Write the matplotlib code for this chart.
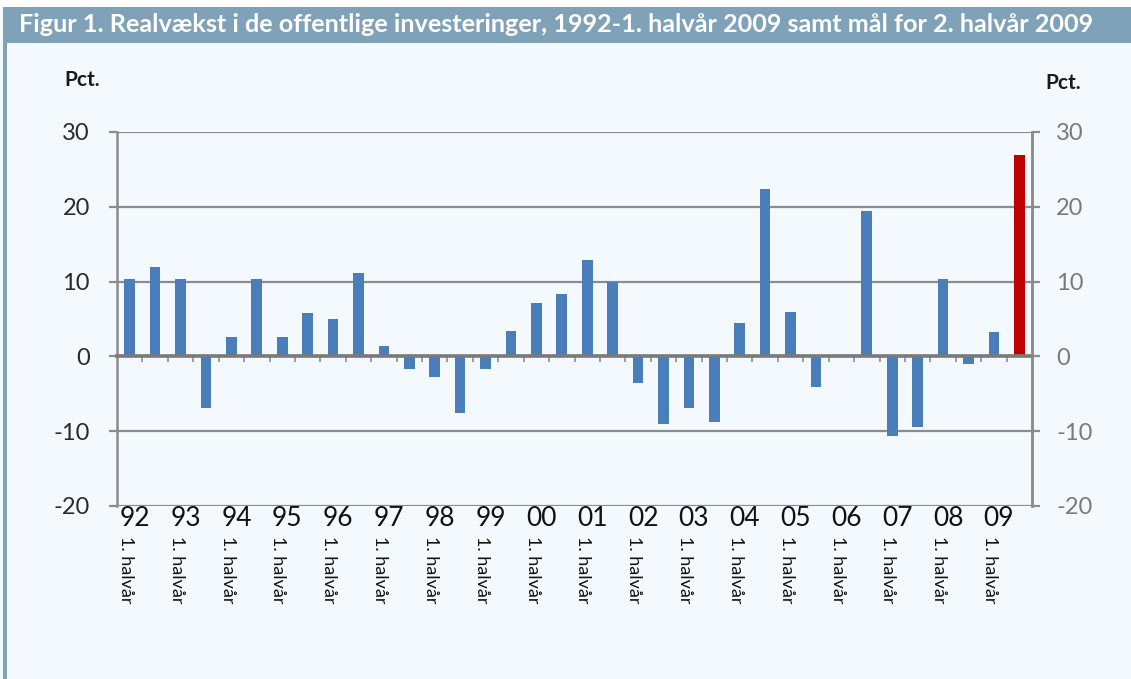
import matplotlib
matplotlib.use("Agg")
import matplotlib.pyplot as plt
import matplotlib.transforms as mtransforms
from matplotlib.patches import Rectangle

# ---- data ----
years = ["92", "93", "94", "95", "96", "97", "98", "99", "00",
         "01", "02", "03", "04", "05", "06", "07", "08", "09"]
half_label = "1. halvår"
values = [10.4, 12.0, 10.4, -6.9, 2.6, 10.4, 2.6, 5.8, 5.0, 11.2,
          1.4, -1.7, -2.7, -7.5, -1.7, 3.4, 7.1, 8.3, 12.9, 10.0,
          -3.6, -9.0, -6.9, -8.8, 4.4, 22.4, 6.0, -4.1, 0.0, 19.4,
          -10.6, -9.4, 10.3, -1.0, 3.2, 26.9]
yticks = [-20, -10, 0, 10, 20, 30]
title = "Figur 1. Realvækst i de offentlige investeringer, 1992-1. halvår 2009 samt mål for 2. halvår 2009"
unit = "Pct."

BG = "#f4f9fd"
BAND = "#7fa2b8"
BLUE = "#4a7ebb"
RED = "#c00000"
GRID = "#8c8c8c"
FONT = ["Lato", "DejaVu Sans"]

plt.rcParams['font.family'] = FONT

fig = plt.figure(figsize=(11.31, 6.79), dpi=100)
fig.patch.set_facecolor(BG)

W, H = 1131, 679
# white strip above header, header band, left border
fig.add_artist(Rectangle((0, 1 - 7 / H), 1, 7 / H, transform=fig.transFigure,
                         facecolor="white", edgecolor="none", zorder=0))
fig.add_artist(Rectangle((3 / W, 1 - 43 / H), 1, 36 / H, transform=fig.transFigure,
                         facecolor=BAND, edgecolor="none", zorder=0))
fig.add_artist(Rectangle((3 / W, 0), 4 / W, 1 - 43 / H, transform=fig.transFigure,
                         facecolor=BAND, edgecolor="none", zorder=0))

t = fig.text(19 / W, 1 - 25 / H, title, color="white", fontsize=19,
             fontweight="bold", va="center", ha="left", family=FONT)
# fit title width to about 1076 px
fig.canvas.draw()
r = fig.canvas.get_renderer()
bb = t.get_window_extent(r)
t.set_fontsize(19 * 1076 / bb.width)

ax = fig.add_axes([117 / W, 1 - 506 / H, (1032 - 117) / W, (506 - 132) / H])
ax.set_facecolor(BG)

n = len(values)
x = list(range(n))
colors = [BLUE] * (n - 1) + [RED]
ax.bar(x, values, width=0.42, color=colors, zorder=3)

ax.set_xlim(-0.5, n - 0.5)
ax.set_ylim(yticks[0], yticks[-1])
ax.set_yticks(yticks)
ax.yaxis.grid(True, color=GRID, linewidth=1.6, zorder=1)
ax.set_axisbelow(True)

ax.spines["top"].set_visible(False)
ax.spines["left"].set_color(GRID)
ax.spines["left"].set_linewidth(1.8)
ax.spines["right"].set_color(GRID)
ax.spines["right"].set_linewidth(1.8)
ax.spines["bottom"].set_position(("data", 0))
ax.spines["bottom"].set_color("#7a7a7a")
ax.spines["bottom"].set_linewidth(2.6)
ax.spines["bottom"].set_zorder(4)

ax.set_xticks([k + 0.5 for k in range(n - 1)])
ax.set_xticklabels([])
ax.tick_params(axis="x", direction="out", length=4, width=1.2, color=GRID)
ax.tick_params(axis="y", direction="out", length=5.5, width=1.6, color=GRID,
               pad=14, labelsize=17, labelcolor="#2a2a2a")
ax.set_yticklabels([str(v) for v in yticks])

ax2 = ax.twinx()
ax2.set_ylim(ax.get_ylim())
ax2.set_yticks(yticks)
ax2.set_yticklabels([str(v) for v in yticks])
ax2.tick_params(axis="y", direction="out", length=5.5, width=1.6, color=GRID,
                pad=12, labelsize=17, labelcolor="#7a7a7a")
for s in ["top", "bottom", "left"]:
    ax2.spines[s].set_visible(False)
ax2.spines["right"].set_color(GRID)
ax2.spines["right"].set_linewidth(1.8)

# category labels
trans = mtransforms.blended_transform_factory(ax.transData, fig.transFigure)
for i, yr in enumerate(years):
    pos = 2 * i
    ax.text(pos + 0.2, 1 - 506 / H, yr, transform=trans, ha="center", va="top",
            fontsize=19, color="#111111")
    ax.text(pos - 0.15, 1 - 536 / H, half_label, transform=trans, ha="center",
            va="top", rotation=-90, fontsize=13, color="#111111")

fig.text(82 / W, 1 - 80 / H, unit, ha="center", va="center", fontsize=15,
         fontweight="bold", color="#1a1a1a")
fig.text(1063 / W, 1 - 83 / H, unit, ha="center", va="center", fontsize=15,
         fontweight="bold", color="#1a1a1a")

fig.savefig("out.png", dpi=100, facecolor=BG)
